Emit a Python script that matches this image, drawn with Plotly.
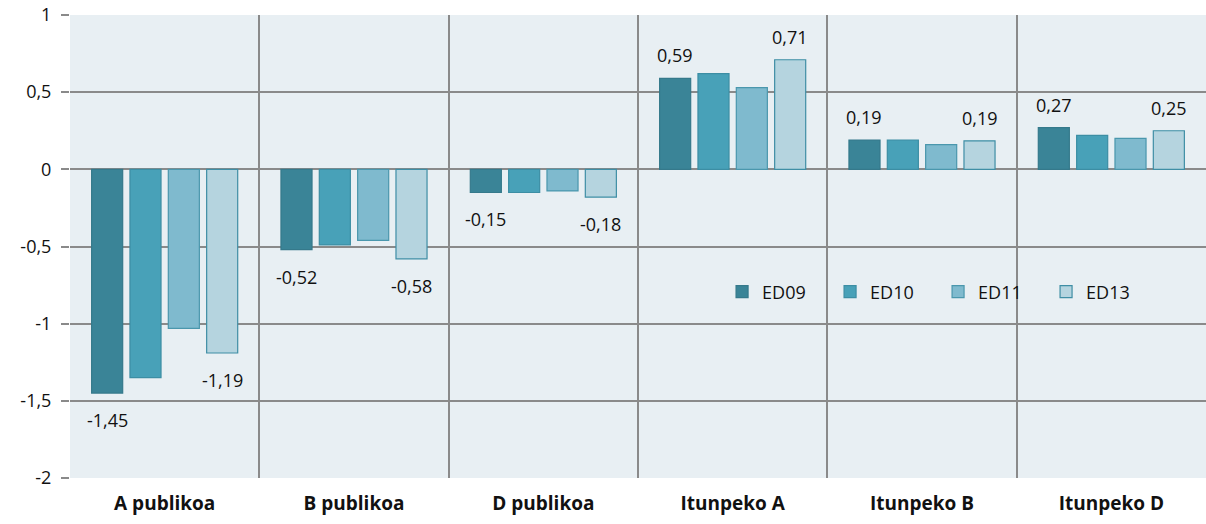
import plotly.graph_objects as go

categories = ["A publikoa", "B publikoa", "D publikoa", "Itunpeko A", "Itunpeko B", "Itunpeko D"]
series_names = ["ED09", "ED10", "ED11", "ED13"]
ed09 = [-1.45, -0.52, -0.15, 0.59, 0.19, 0.27]
ed10 = [-1.35, -0.49, -0.15, 0.62, 0.19, 0.22]
ed11 = [-1.03, -0.46, -0.14, 0.53, 0.16, 0.20]
ed13 = [-1.19, -0.58, -0.18, 0.71, 0.185, 0.25]
ed09_labels = ["-1,45", "-0,52", "-0,15", "0,59", "0,19", "0,27"]
ed13_labels = ["-1,19", "-0,58", "-0,18", "0,71", "0,19", "0,25"]
y_ticks = [1, 0.5, 0, -0.5, -1, -1.5, -2]
y_tick_labels = ["1", "0,5", "0", "-0,5", "-1", "-1,5", "-2"]

FONT = "Open Sans, Lato, sans-serif"
W, H = 1206, 524
ML, MR, MT, MB = 70, 0, 15, 46
BARGAP, GROUPGAP = 0.19, 0.19

fills = ["#3A8497", "#48A1B8", "#7FBACE", "#B5D4DF"]
lines = ["#35798b", "#3c8ea4", "#4a97ad", "#3f8ea5"]
values = [ed09, ed10, ed11, ed13]

fig = go.Figure()
for name, vals, fc, lc in zip(series_names, values, fills, lines):
    fig.add_trace(go.Bar(
        x=categories, y=vals, name=name,
        marker=dict(color=fc, line=dict(color=lc, width=1.2)),
    ))

# data labels for first and last series, placed over their bars
cat_px = (W - ML - MR) / len(categories)
slot_px = cat_px * (1 - BARGAP) / len(series_names)
annotations = []
for vals, labels, idx in [(ed09, ed09_labels, 0), (ed13, ed13_labels, 3)]:
    off = (idx - (len(series_names) - 1) / 2) * slot_px
    for c, v, t in zip(categories, vals, labels):
        annotations.append(dict(
            x=c, y=v, text=t, showarrow=False, xshift=off,
            yanchor="middle", yshift=23 if v >= 0 else -27,
            font=dict(family=FONT, size=18, color="#111111"),
        ))

fig.update_layout(
    width=W, height=H,
    margin=dict(l=ML, r=MR, t=MT, b=MB, autoexpand=False),
    paper_bgcolor="white", plot_bgcolor="#E8EFF3",
    barmode="group", bargap=BARGAP, bargroupgap=GROUPGAP,
    font=dict(family=FONT, size=18, color="#111111"),
    showlegend=True,
    legend=dict(orientation="h", x=0.574, y=0.402, xanchor="left", yanchor="middle",
                bgcolor="rgba(0,0,0,0)", font=dict(size=18), itemwidth=30,
                entrywidth=63, entrywidthmode="pixels",
                traceorder="normal"),
    annotations=annotations,
)
fig.update_xaxes(
    tickson="boundaries", showgrid=True, gridcolor="#8a8a8a", gridwidth=1.6,
    ticks="", showline=False, zeroline=False,
    tickfont=dict(family=FONT, size=19, color="#111111", weight="bold"),
    ticklabelstandoff=12,
)
fig.update_yaxes(
    range=[-2, 1], tickvals=y_ticks, ticktext=y_tick_labels,
    showgrid=True, gridcolor="#8a8a8a", gridwidth=1.6,
    zeroline=True, zerolinecolor="#8a8a8a", zerolinewidth=1.6,
    ticks="outside", ticklen=8, tickcolor="#8a8a8a", tickwidth=1.6,
    tickfont=dict(family=FONT, size=18, color="#111111"), ticklabelstandoff=6,
    showline=False,
)
fig.write_html("out.html", config={"displayModeBar": False},
               post_script="document.body.style.margin='0';")
